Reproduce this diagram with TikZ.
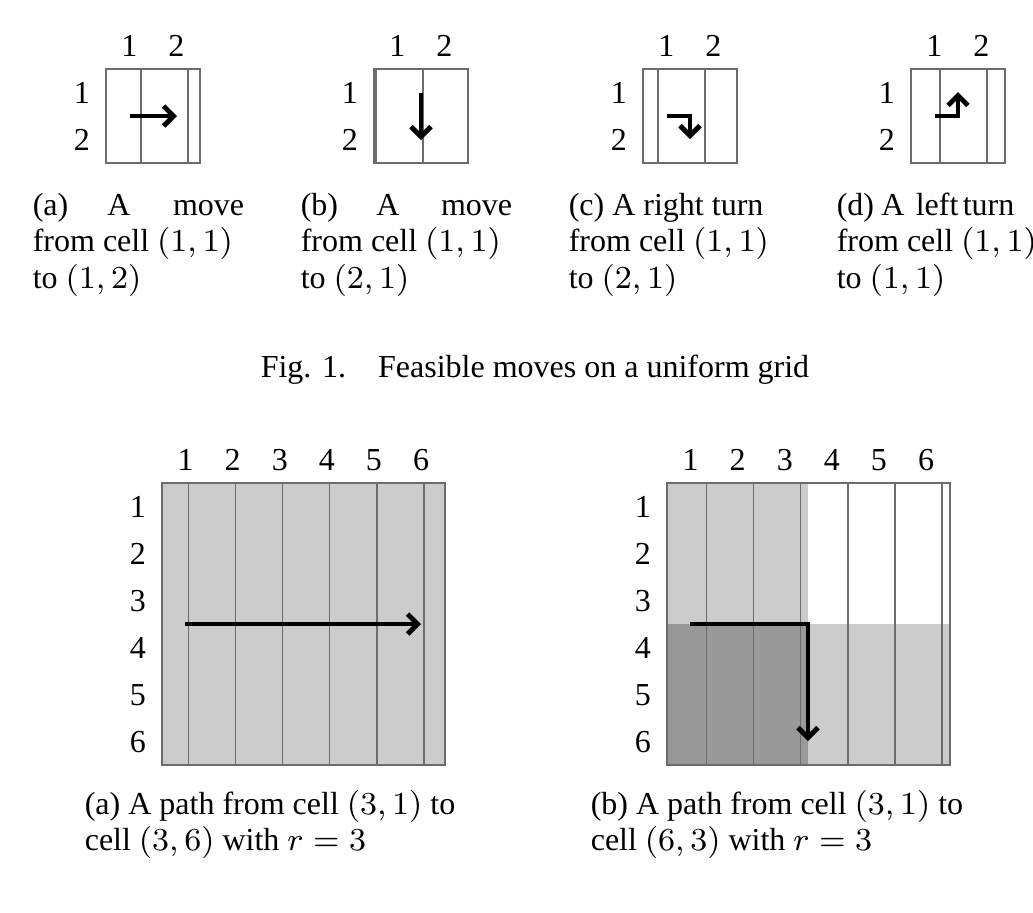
\documentclass[tikz,border=0pt]{standalone}
\usepackage{fontspec}
\setmainfont{Liberation Serif}
\usetikzlibrary{arrows.meta}
\begin{document}
\begin{tikzpicture}[x=0.25pt,y=-0.25pt,font=\fontsize{8}{9.6}\selectfont,
  gline/.style={draw=gray!85!black,line width=0.4pt},
  mv/.style={line width=1.2pt,-{Straight Barb[length=2.5pt,width=5pt,line width=1.2pt]}},
  lbl/.style={inner sep=0pt},
  captxt/.style={inner sep=0pt,anchor=base west}]
\useasboundingbox (0,0) rectangle (1033,913);
% small grids
\foreach \gx/\nm in {106/a,374/b,643/c,911/d}{
  \draw[gline] (\gx,69) grid[step=47] ++(94,94);
  \draw[gline] (\gx,69) rectangle ++(94,94);
  \node[lbl] (\nm c1) at (\gx+23.5,46) {1};
  \node[lbl] (\nm c2) at (\gx+70.5,46) {2};
  \node[lbl] (\nm r1) at (\gx-24,93) {1};
  \node[lbl] (\nm r2) at (\gx-24,140) {2};
}
\coordinate (a1) at (130,116); \coordinate (a2) at (177,116);
\draw[mv] (a1) -- (a2);
\coordinate (b1) at (421,93); \coordinate (b2) at (421,140);
\draw[mv] (b1) -- (b2);
\coordinate (c1) at (667,116); \coordinate (c2) at (690,116); \coordinate (c3) at (690,139);
\draw[mv] (c1) -- (c2) -- (c3);
\coordinate (d1) at (935,116); \coordinate (d2) at (958,116); \coordinate (d3) at (958,92);
\draw[mv] (d1) -- (d2) -- (d3);
% small captions
\node[captxt] (ta1) at (32,215) {(a)};
\node[inner sep=0pt,anchor=base] (ta2) at (119,215) {A};
\node[inner sep=0pt,anchor=base east] (ta3) at (245,215) {move};
\node[captxt] (ta4) at (32,251) {from cell $(1,1)$};
\node[captxt] (ta5) at (32,288) {to $(1,2)$};
\node[captxt] (tb1) at (300,215) {(b)};
\node[inner sep=0pt,anchor=base] (tb2) at (388,215) {A};
\node[inner sep=0pt,anchor=base east] (tb3) at (513,215) {move};
\node[captxt] (tb4) at (300,251) {from cell $(1,1)$};
\node[captxt] (tb5) at (300,288) {to $(2,1)$};
\node[captxt] (tc1) at (568,215) {(c) A right turn};
\node[captxt] (tc4) at (568,251) {from cell $(1,1)$};
\node[captxt] (tc5) at (568,288) {to $(2,1)$};
\node[captxt] (td1) at (836,215) {(d)};
\node[inner sep=0pt,anchor=base] (td2) at (893,215) {A};
\node[captxt] (td3) at (915,215) {left};
\node[captxt] (td3b) at (962,215) {turn};
\node[captxt] (td4) at (836,251) {from cell $(1,1)$};
\node[captxt] (td5) at (836,288) {to $(1,1)$};
\node[inner sep=0pt,anchor=base] (fig) at (535,377) {Fig. 1.\quad Feasible moves on a uniform grid};
% big grid a
\fill[gray!40] (162,483) rectangle (445,765);
\draw[gline] (162,483) grid[step=47.1] (445,765);
\draw[gline] (162,483) rectangle (445,765);
% big grid b
\fill[gray!40] (667,483) rectangle (808,624);
\fill[gray!80] (667,624) rectangle (808,765);
\fill[gray!40] (808,624) rectangle (950,765);
\draw[gline] (667,483) grid[step=47.1] (950,765);
\draw[gline] (667,483) rectangle (950,765);
\foreach \i in {1,...,6}{
  \node[lbl] (ac\i) at (162+47.1*\i-23.5,460) {\i};
  \node[lbl] (ar\i) at (138,483+47.1*\i-23.5) {\i};
  \node[lbl] (bc\i) at (667+47.1*\i-23.5,460) {\i};
  \node[lbl] (br\i) at (643,483+47.1*\i-23.5) {\i};
}
\coordinate (p1) at (185,624); \coordinate (p2) at (421,624);
\draw[mv] (p1) -- (p2);
\coordinate (q1) at (690,624); \coordinate (q2) at (808,624); \coordinate (q3) at (808,741);
\draw[mv] (q1) -- (q2) -- (q3);
\node[captxt] (ca1) at (84,814) {(a) A path from cell $(3,1)$ to};
\node[captxt] (ca2) at (84,850) {cell $(3,6)$ with $r=3$};
\node[captxt] (cb1) at (590,814) {(b) A path from cell $(3,1)$ to};
\node[captxt] (cb2) at (590,850) {cell $(6,3)$ with $r=3$};
\end{tikzpicture}
\end{document}
